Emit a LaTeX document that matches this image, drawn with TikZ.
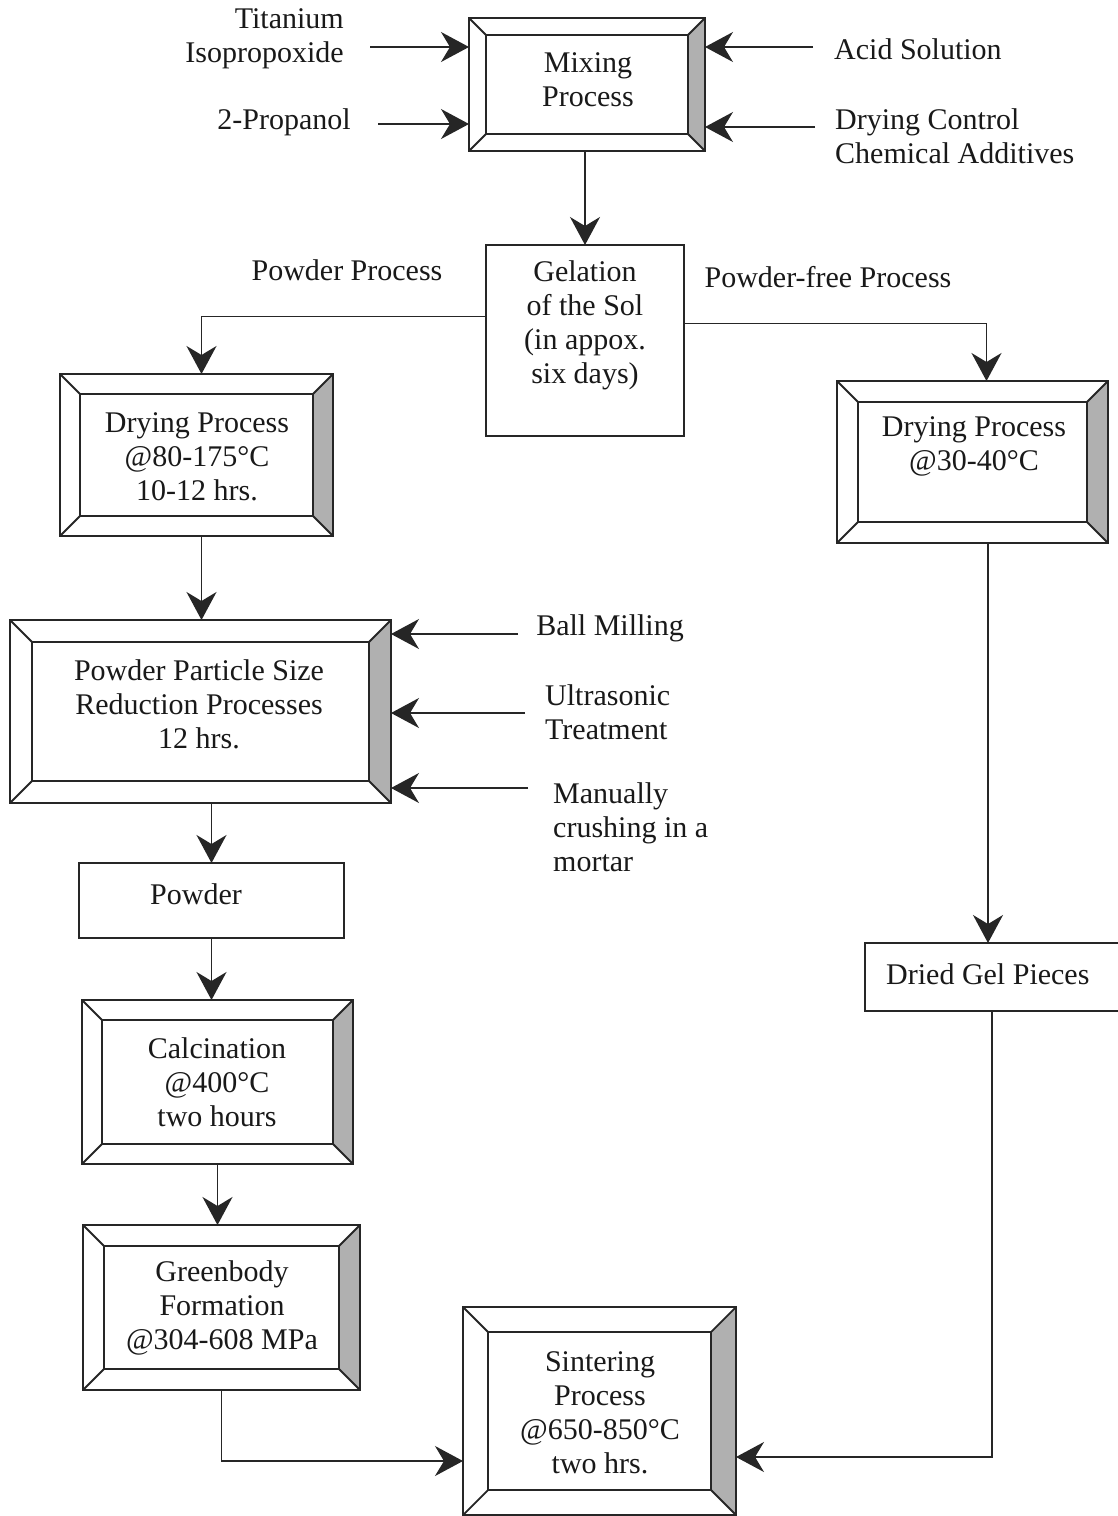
\documentclass[tikz,border=0pt]{standalone}
\usepackage{fontspec}
\setmainfont{Liberation Serif}
\usetikzlibrary{arrows.meta,calc}
\newcommand\lbfont{\fontsize{30}{34}\selectfont}
\tikzset{
  bl/.style={line width=1.8pt, draw=black!85},
  arr/.style={line width=1.5pt, draw=black!85, -{Stealth[length=28pt,width=30pt,inset=9pt]}},
  bx/.style={draw=none, inner sep=0pt, outer sep=0pt},
  lbl/.style={font=\lbfont, align=center, inner sep=0pt, text=black!90},
  shadefill/.style={fill=gray!62}
}
% name, x1, y1, x2, y2, bevel
\newcommand\bevbox[6]{%
  \node[bx, minimum width={(#4-#2)*1pt}, minimum height={(#5-#3)*1pt}] (#1) at ({(#2+#4)/2},{(#3+#5)/2}) {};
  \fill[shadefill] (#4-#6,#3+#6) -- (#4,#3) -- (#4,#5) -- (#4-#6,#5-#6) -- cycle;
  \draw[bl] (#2,#3) rectangle (#4,#5);
  \draw[bl] (#2+#6,#3+#6) rectangle (#4-#6,#5-#6);
  \draw[bl] (#2,#3) -- (#2+#6,#3+#6) (#4,#3) -- (#4-#6,#3+#6)
            (#2,#5) -- (#2+#6,#5-#6) (#4,#5) -- (#4-#6,#5-#6);
}
% name, x1, y1, x2, y2
\newcommand\plainbox[5]{%
  \node[bx, bl, draw, minimum width={(#4-#2)*1pt}, minimum height={(#5-#3)*1pt}] (#1) at ({(#2+#4)/2},{(#3+#5)/2}) {};
}
\begin{document}
\begin{tikzpicture}[x=1pt,y=-1pt]
\useasboundingbox (0,0) rectangle (1118,1516);
\fill[white] (0,0) rectangle (1118,1516);

% boxes
\bevbox{mix}{469}{18}{705}{151}{17}
\plainbox{gel}{486}{245}{684}{436}
\bevbox{dryl}{60}{374}{333}{536}{20}
\bevbox{dryr}{837}{381}{1108}{543}{21}
\bevbox{ppsr}{10}{620}{391}{803}{22}
\plainbox{pow}{79}{863}{344}{938}
\bevbox{calc}{82}{1000}{353}{1164}{20}
\bevbox{gb}{83}{1225}{360}{1390}{21}
\bevbox{sint}{463}{1307}{736}{1515}{25}
\plainbox{dgel}{865}{943}{1125}{1011}

% box texts
\node[lbl] (mixt) at (588,80) {Mixing\\Process};
\node[lbl] (gelt) at (585,325) {Gelation\\of the Sol\\(in appox.\\six days)};
\node[lbl] (drylt) at (197,457) {Drying Process\\@80-175°C\\10-12 hrs.};
\node[lbl] (dryrt) at (974,446) {Drying Process\\@30-40°C};
\node[lbl] (ppsrt) at (199,704) {Powder Particle Size\\Reduction Processes\\12 hrs.};
\node[lbl] (powt) at (196,894) {Powder};
\node[lbl] (calct) at (217,1082) {Calcination\\@400°C\\two hours};
\node[lbl] (gbt) at (222,1308) {Greenbody\\Formation\\@304-608 MPa};
\node[lbl] (sintt) at (600,1413) {Sintering\\Process\\@650-850°C\\two hrs.};
\node[lbl, anchor=west] (dgelt) at (886,974) {Dried Gel Pieces};

% side labels
\node[lbl, align=right, anchor=east] (tit) at (344,39) {Titanium\\Isopropoxide};
\node[lbl] (prop) at (284,122) {2-Propanol};
\node[lbl, anchor=west] (acid) at (834,49) {Acid Solution};
\node[lbl, align=left, anchor=west] (dcca) at (835,136) {Drying Control\\Chemical Additives};
\node[lbl] (pp) at (347,270) {Powder Process};
\node[lbl] (pfp) at (828,277) {Powder-free Process};
\node[lbl] (ball) at (610,628) {Ball Milling};
\node[lbl, align=left, anchor=west] (ultra) at (545,712) {Ultrasonic\\Treatment};
\node[lbl, align=left, anchor=west] (man) at (553,827) {Manually\\crushing in a\\mortar};

% free ends
\coordinate (cTi) at (370,47);
\coordinate (cPr) at (378,124);
\coordinate (cAc) at (813,47);
\coordinate (cDc) at (815,127);
\coordinate (cBm) at (518,634);
\coordinate (cUt) at (525,713);
\coordinate (cMa) at (528,788);

% input arrows
\draw[arr] (cTi) -- (cTi -| mix.west);
\draw[arr] (cPr) -- (cPr -| mix.west);
\draw[arr] (cAc) -- (cAc -| mix.east);
\draw[arr] (cDc) -- (cDc -| mix.east);
\draw[arr] (cBm) -- (cBm -| ppsr.east);
\draw[arr] (cUt) -- (cUt -| ppsr.east);
\draw[arr] (cMa) -- (cMa -| ppsr.east);

% flow arrows
\draw[arr] (mix.south -| gel.north) -- (gel.north);
\draw[arr] ([yshift=24pt]gel.west) -| ([xshift=5pt]dryl.north);
\draw[arr] ([yshift=17pt]gel.east) -| ([xshift=14pt]dryr.north);
\draw[arr] ([xshift=5pt]dryl.south) -- ([xshift=5pt]dryl.south |- ppsr.north);
\draw[arr] (ppsr.south -| pow.north) -- (pow.north);
\draw[arr] (pow.south) -- (pow.south |- calc.north);
\draw[arr] (calc.south) -- (calc.south |- gb.north);
\draw[arr] (gb.south) |- ([yshift=-50pt]sint.west);
\draw[arr] ([xshift=-7pt]dgel.north |- dryr.south) -- ([xshift=-7pt]dgel.north);
\draw[arr] ([xshift=-3pt]dgel.south) |- ([yshift=-46pt]sint.east);
\end{tikzpicture}
\end{document}
